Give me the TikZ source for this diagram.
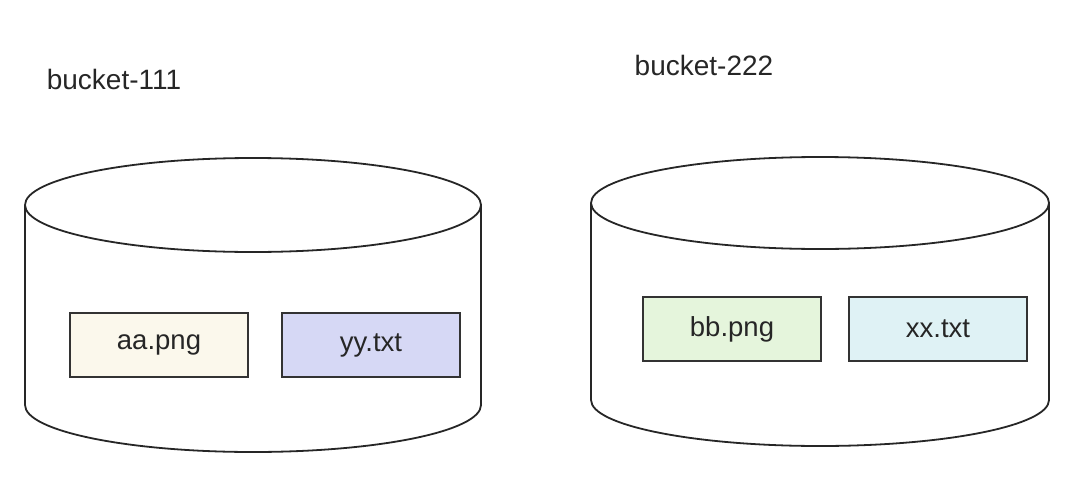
\documentclass[tikz,border=0pt]{standalone}
\usepackage{fontspec}
\setmainfont{Liberation Sans}
\begin{document}
\begin{tikzpicture}[x=1pt,y=-1pt,
  cyl/.style={draw=black!85,line width=1.8pt,fill=white},
  file/.style={draw=black!80,line width=1.5pt,minimum width=178pt,minimum height=64pt,font=\fontsize{27.5}{30}\selectfont,text=black!85},
  lbl/.style={font=\fontsize{28}{31}\selectfont,text=black!85}]
\useasboundingbox (0,0) rectangle (1083,479);
% cylinder 1
\draw[cyl] (25,205) -- (25,405) arc[start angle=180,end angle=360,x radius=228,y radius=-47] -- (481,205);
\draw[cyl] (253,205) ellipse[x radius=228,y radius=47];
% cylinder 2
\draw[cyl] (591,203) -- (591,400) arc[start angle=180,end angle=360,x radius=229,y radius=-46] -- (1049,203);
\draw[cyl] (820,203) ellipse[x radius=229,y radius=46];
\node[lbl] (l1) at (114,79) {bucket-111};
\node[lbl] (l2) at (704,65) {bucket-222};
\node[file,fill={rgb,255:red,251;green,248;blue,236}] (aa) at (159,345) {aa.png};
\node[file,fill={rgb,255:red,214;green,216;blue,245}] (yy) at (371,345) {yy.txt};
\node[file,fill={rgb,255:red,229;green,245;blue,220}] (bb) at (732,329) {bb.png};
\node[file,fill={rgb,255:red,223;green,242;blue,245}] (xx) at (938,329) {xx.txt};
\end{tikzpicture}
\end{document}
